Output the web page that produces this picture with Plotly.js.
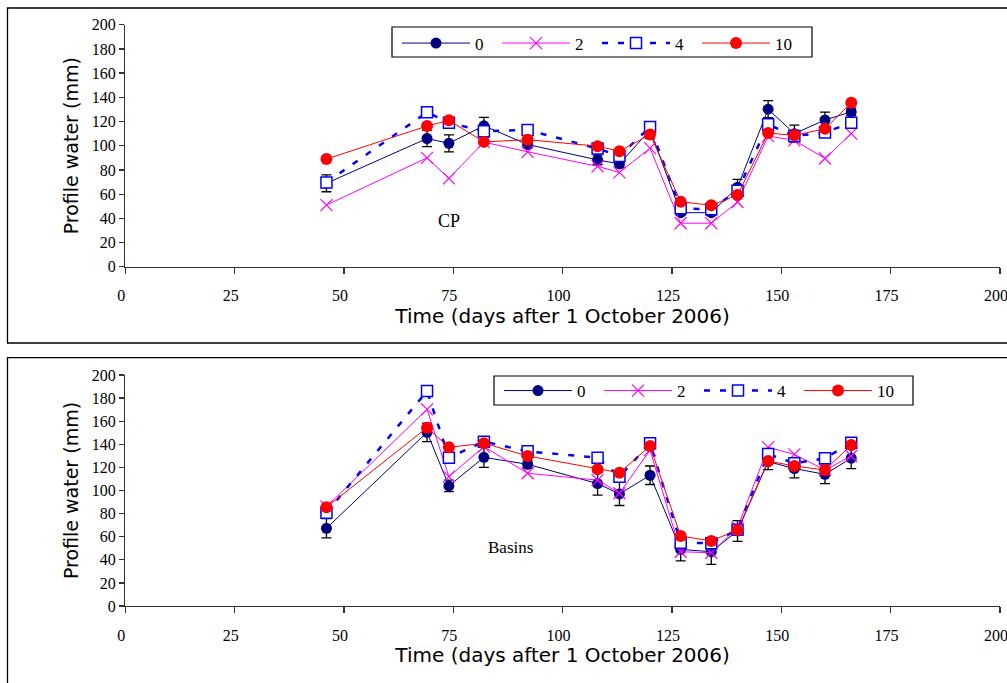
<!DOCTYPE html>
<html>
<head>
<meta charset="utf-8">
<script src="https://cdn.plot.ly/plotly-3.0.1.min.js"></script>
<style>html,body{margin:0;padding:0;background:#fff;}#chart{width:1007px;height:683px;}</style>
</head>
<body>
<div id="chart"></div>
<script>
// Days after 1 October 2006
const days = [46, 69, 74, 82, 92, 108, 113, 120, 127, 134, 140, 147, 153, 160, 166];
const seriesNames = ["0", "2", "4", "10"];

// CP panel
const cp0  = [69, 106, 102, 116.5, 101, 88.3, 85, 113, 44.7, 44.7, 65.7, 130.2, 110, 121.3, 128];
const cp0err = [7, 6.7, 7, 7, 3, 4, 3, 7, 2, 2, 6.5, 7, 7, 6.5, 3];
const cp2  = [51, 90, 73, 103, 95, 83, 78, 98, 36, 36, 53.5, 108, 104.5, 89.5, 110];
const cp4  = [69.7, 127.6, 119, 112, 113, 97.7, 91.5, 115.5, 48.3, 47.5, 62.8, 117.7, 108, 111, 119];
const cp10 = [89, 116.3, 121, 103.2, 105, 99.6, 95.5, 109.2, 53.8, 50.8, 59.3, 110.5, 108.6, 114, 135.5];

// Basins panel
const bs0  = [67.3, 150.4, 104, 128.7, 122.7, 106, 97, 113.2, 49, 47, 65, 125, 119, 114, 128];
const bs0err = [8.4, 8, 5, 8.7, 3, 10, 10, 8, 10, 11, 9, 7, 8, 8, 9];
const bs2  = [86, 170.3, 112, 138, 114.9, 109, 97.6, 135, 47, 46.1, 68, 137.4, 131.3, 117.7, 129.9];
const bs4  = [80.8, 186.1, 128.4, 142.3, 133.9, 128.4, 112, 140.9, 54.8, 54.3, 66, 131.6, 123.5, 127.9, 141.4];
const bs10 = [85.5, 154.4, 137.4, 140.9, 129.9, 118.4, 115.4, 138.5, 60.6, 56.3, 65.8, 125.5, 121.2, 117.7, 139.4];

const xTickVals = [0, 25, 50, 75, 100, 125, 150, 175, 200];

const styles = [
  {line: {color: "#000080", width: 1}, marker: {symbol: "circle", size: 11, color: "#000080"}},
  {line: {color: "#FF00FF", width: 1}, marker: {symbol: "x-thin-open", size: 12, color: "#FF00FF", line: {color: "#FF00FF", width: 1.2}}},
  {line: {color: "#0000FF", width: 2.5, dash: "6px,10px"}, marker: {symbol: "square", size: 11, color: "#FFFFFF", line: {color: "#0000FF", width: 1.5}}},
  {line: {color: "#FF0000", width: 1}, marker: {symbol: "circle", size: 12, color: "#FF0000"}}
];

function mk(y, i, xa, ya, leg, err) {
  const t = {
    x: days, y: y, type: "scatter", mode: "lines+markers", name: seriesNames[i],
    xaxis: xa, yaxis: ya, legend: leg,
    line: styles[i].line, marker: styles[i].marker
  };
  if (err) {
    t.error_y = {type: "data", array: err, visible: true, color: "#000", thickness: 1.3, width: 5};
  }
  return t;
}

const data = [
  mk(cp0, 0, "x", "y", "legend", cp0err),
  mk(cp2, 1, "x", "y", "legend"),
  mk(cp4, 2, "x", "y", "legend"),
  mk(cp10, 3, "x", "y", "legend"),
  mk(bs0, 0, "x2", "y2", "legend2", bs0err),
  mk(bs2, 1, "x2", "y2", "legend2"),
  mk(bs4, 2, "x2", "y2", "legend2"),
  mk(bs10, 3, "x2", "y2", "legend2")
];

const W = 1007, H = 683;
const serif = "'Liberation Serif', 'Times New Roman', serif";
const tickFont = {family: serif, size: 16, color: "#000"};
const xTitleFont = {family: "'DejaVu Sans', Verdana, sans-serif", size: 20, color: "#000"};
const yTitleFont = {family: "'DejaVu Sans', Verdana, sans-serif", size: 19, color: "#000"};

function xax(anchor) {
  return {
    domain: [125.3 / W, 999.9 / W], range: [0, 200], anchor: anchor,
    tickvals: xTickVals, ticks: "outside", ticklen: 6, tickwidth: 1.3, tickcolor: "#333",
    showline: true, linecolor: "#333", linewidth: 1.3, showgrid: false, zeroline: false,
    tickfont: tickFont, ticklabelstandoff: 8, ticklabelshift: -4, ticklabeloverflow: "allow",
    title: {text: "Time (days after 1 October 2006)", font: xTitleFont, standoff: 4}
  };
}
function yax(anchor, d0, d1) {
  return {
    domain: [d0, d1], range: [0, 200], anchor: anchor, dtick: 20,
    ticks: "outside", ticklen: 5, tickwidth: 1.3, tickcolor: "#333",
    showline: true, linecolor: "#333", linewidth: 1.3, showgrid: false, zeroline: false,
    tickfont: tickFont,
    title: {text: "Profile water (mm)", font: yTitleFont, standoff: 8}
  };
}

const legendBase = {
  orientation: "h", xanchor: "left", yanchor: "top",
  bgcolor: "rgba(0,0,0,0)", borderwidth: 0,
  font: {family: serif, size: 17, color: "#000"},
  itemwidth: 68, entrywidth: 17, entrywidthmode: "pixels", traceorder: "normal",
  itemclick: false, itemdoubleclick: false
};

// legend frames (px): [left, top, right, bottom]
const legFrames = [[392, 27, 812, 57], [494, 376, 913, 405]];

function frame(f) {
  return {type: "rect", xref: "paper", yref: "paper", layer: "above",
    x0: f[0] / W, x1: f[2] / W, y0: (H - f[3]) / H, y1: (H - f[1]) / H,
    line: {color: "#000", width: 1.2}, fillcolor: "#FFFFFF"};
}

const layout = {
  width: W, height: H,
  margin: {l: 0, r: 0, t: 0, b: 0},
  paper_bgcolor: "#fff", plot_bgcolor: "rgba(0,0,0,0)",
  showlegend: true,
  xaxis: xax("y"),
  yaxis: yax("x", (H - 266.8) / H, (H - 24.7) / H),
  xaxis2: xax("y2"),
  yaxis2: yax("x2", (H - 606) / H, (H - 375) / H),
  legend: Object.assign({}, legendBase, {x: 397 / W, y: (H - 25.5) / H}),
  legend2: Object.assign({}, legendBase, {x: 499 / W, y: (H - 373) / H}),
  shapes: [
    {type: "rect", xref: "paper", yref: "paper", x0: 7.5 / W, x1: 1.02, y0: (H - 343) / H, y1: (H - 8) / H,
     line: {color: "#000", width: 1.3}, fillcolor: "rgba(0,0,0,0)", layer: "below"},
    {type: "rect", xref: "paper", yref: "paper", x0: 7.5 / W, x1: 1.02, y0: -0.02, y1: (H - 357.7) / H,
     line: {color: "#000", width: 1.3}, fillcolor: "rgba(0,0,0,0)", layer: "below"},
    frame(legFrames[0]),
    frame(legFrames[1])
  ],
  annotations: [
    {text: "CP", x: 74, y: 38, xref: "x", yref: "y", showarrow: false,
     font: {family: serif, size: 18, color: "#000"}},
    {text: "Basins", x: 88, y: 51, xref: "x2", yref: "y2", showarrow: false,
     font: {family: serif, size: 17, color: "#000"}}
  ]
};

Plotly.newPlot("chart", data, layout, {staticPlot: true, displayModeBar: false});
</script>
</body>
</html>
